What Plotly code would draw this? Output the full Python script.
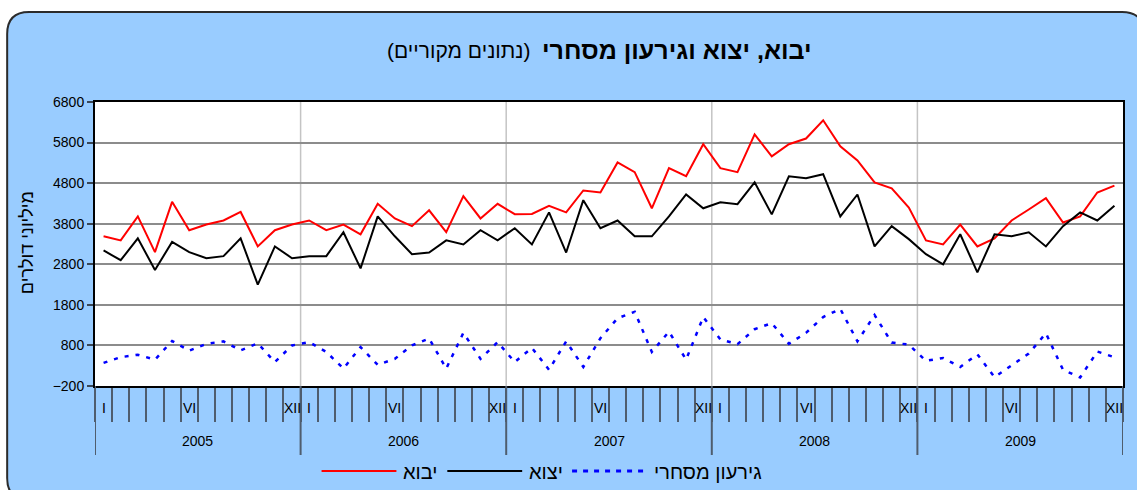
import plotly.graph_objects as go

# ---------------- data ----------------
years = [2005, 2006, 2007, 2008, 2009]
month_labels = ["I", "", "", "", "", "VI", "", "", "", "", "", "XII"]

imports = [
    3490, 3390, 3980, 3100, 4340, 3640, 3780, 3880, 4090, 3240, 3640, 3780,
    3880, 3640, 3780, 3540, 4290, 3930, 3740, 4130, 3590, 4480, 3930, 4290,
    4035, 4040, 4240, 4080, 4620, 4570, 5310, 5070, 4180, 5170, 4970, 5760,
    5170, 5070, 6000, 5460, 5760, 5900, 6350, 5710, 5360, 4820, 4670, 4200,
    3390, 3290, 3780, 3240, 3440, 3880, 4150, 4430, 3830, 3980, 4570, 4740,
]
exports = [
    3140, 2900, 3440, 2660, 3350, 3100, 2950, 3000, 3440, 2300, 3240, 2950,
    3000, 3000, 3590, 2700, 3980, 3490, 3050, 3090, 3390, 3290, 3640, 3390,
    3690, 3290, 4080, 3090, 4380, 3690, 3880, 3490, 3490, 3980, 4520, 4180,
    4330, 4280, 4820, 4030, 4970, 4920, 5020, 3980, 4520, 3240, 3740, 3420,
    3050, 2800, 3540, 2600, 3540, 3490, 3590, 3240, 3740, 4080, 3880, 4240,
]
deficit = [
    370, 510, 570, 450, 910, 670, 840, 900, 680, 850, 390, 800,
    880, 640, 230, 760, 320, 470, 800, 970, 230, 1110, 470, 880,
    390, 740, 200, 900, 270, 980, 1470, 1630, 640, 1140, 450, 1500,
    950, 830, 1200, 1350, 840, 1110, 1500, 1700, 900, 1550, 870, 820,
    420, 490, 270, 580, 20, 320, 600, 1100, 200, 10, 650, 510,
]

series_names = ["יבוא", "יצוא", "גירעון מסחרי"]
title_main = "יבוא, יצוא וגירעון מסחרי"
title_sub = "(נתונים מקוריים)"
y_title = "מיליוני דולרים"

categories = [f"{y}-{m:02d}" for y in years for m in range(1, 13)]

# ---------------- layout geometry (pixels) ----------------
W, H = 1137, 490
L, R, T, B = 95, 12, 102, 104
PW, PH = W - L - R, H - T - B
FONT = "Liberation Sans, Arial, sans-serif"


def px(x):
    return (x - L) / PW


def py(y):
    return (T + PH - y) / PH


fig = go.Figure()
fig.add_trace(go.Scatter(x=categories, y=imports, mode="lines", name=series_names[0],
                         line=dict(color="#FF0000", width=2)))
fig.add_trace(go.Scatter(x=categories, y=exports, mode="lines", name=series_names[1],
                         line=dict(color="#000000", width=2)))
fig.add_trace(go.Scatter(x=categories, y=deficit, mode="lines", name=series_names[2],
                         line=dict(color="#0000FF", width=2.5, dash="4px,7px")))

shapes = []
# rounded light-blue panel
rx, ry, rr, rb, rad = 7, 12, 1146, 500, 22
path = (f"M {px(rx)},{py(ry + rad)} Q {px(rx)},{py(ry)} {px(rx + rad)},{py(ry)} "
        f"L {px(rr - rad)},{py(ry)} Q {px(rr)},{py(ry)} {px(rr)},{py(ry + rad)} "
        f"L {px(rr)},{py(rb - rad)} Q {px(rr)},{py(rb)} {px(rr - rad)},{py(rb)} "
        f"L {px(rx + rad)},{py(rb)} Q {px(rx)},{py(rb)} {px(rx)},{py(rb - rad)} Z")
shapes.append(dict(type="path", path=path, xref="paper", yref="paper",
                   fillcolor="#99CCFF", line=dict(color="#2b2b2b", width=2), layer="below"))
shapes.append(dict(type="rect", xref="paper", yref="paper", x0=0, x1=1, y0=0, y1=1,
                   fillcolor="white", line=dict(width=0), layer="below"))

n_years = len(years)
for k in range(n_years + 1):
    xb = 12 * k - 0.5
    if 0 < k < n_years:
        shapes.append(dict(type="line", xref="x", yref="paper", x0=xb, x1=xb, y0=0, y1=1,
                           line=dict(color="#c4c4c4", width=1.5), layer="below"))
    shapes.append(dict(type="line", xref="x", yref="paper", x0=xb, x1=xb, y0=0, y1=py(455),
                       line=dict(color="#4f5d6e", width=2)))

# legend (drawn manually)
legend_items = [
    (series_names[0], "#FF0000", "solid", 2, 322),
    (series_names[1], "#000000", "solid", 2, 448),
    (series_names[2], "#0000FF", "5px,6px", 3, 573),
]
annotations = []
ly = 471
for name, col, dash, wdt, x0 in legend_items:
    shapes.append(dict(type="line", xref="paper", yref="paper", x0=px(x0), x1=px(x0 + 75),
                       y0=py(ly), y1=py(ly), line=dict(color=col, width=wdt, dash=dash)))
    annotations.append(dict(text=name, xref="paper", yref="paper", x=px(x0 + 80), y=py(ly + 1),
                            xanchor="left", yanchor="middle", showarrow=False,
                            font=dict(family=FONT, size=20, color="black")))

# month labels and year labels
for yi, yr in enumerate(years):
    for mi, lab in enumerate(month_labels):
        if lab:
            annotations.append(dict(text=lab, xref="x", yref="paper", x=categories[12 * yi + mi],
                                    y=py(408), xanchor="center", yanchor="middle", showarrow=False,
                                    font=dict(family=FONT, size=14, color="black")))
    annotations.append(dict(text=str(yr), xref="x", yref="paper", x=12 * yi + 5.5, y=py(441),
                            xanchor="center", yanchor="middle", showarrow=False,
                            font=dict(family=FONT, size=14, color="black")))

# titles
annotations.append(dict(text="<b>" + title_main + "</b>", xref="paper", yref="paper",
                        x=px(541), y=py(50), xanchor="left", yanchor="middle", showarrow=False,
                        font=dict(family=FONT, size=25, color="black")))
annotations.append(dict(text=title_sub, xref="paper", yref="paper",
                        x=px(533), y=py(50), xanchor="right", yanchor="middle", showarrow=False,
                        font=dict(family=FONT, size=21, color="black")))
annotations.append(dict(text=y_title, xref="paper", yref="paper", x=px(27), y=py(243),
                        xanchor="center", yanchor="middle", textangle=-90, showarrow=False,
                        font=dict(family=FONT, size=18, color="black")))

fig.update_layout(
    width=W, height=H, autosize=False,
    margin=dict(l=L, r=R, t=T, b=B, pad=0),
    paper_bgcolor="white", plot_bgcolor="white",
    showlegend=False,
    shapes=shapes, annotations=annotations,
    font=dict(family=FONT, size=14, color="black"),
)
fig.update_xaxes(
    type="category", categoryorder="array", categoryarray=categories,
    range=[-0.5, len(categories) - 0.5],
    tickmode="array", tickvals=categories, ticktext=[""] * len(categories),
    tickson="boundaries", ticks="outside", ticklen=34, tickwidth=2, tickcolor="#4f5d6e",
    showticklabels=False, showgrid=False, zeroline=False,
    showline=True, linecolor="black", linewidth=2, mirror=True,
)
fig.update_yaxes(
    range=[-200, 6800], tick0=-200, dtick=1000, tickmode="linear",
    ticks="outside", ticklen=6, tickwidth=2, tickcolor="#3a4656",
    tickfont=dict(family=FONT, size=14, color="black"),
    showgrid=True, gridcolor="#8c8c8c", gridwidth=1.5, zeroline=False,
    showline=True, linecolor="black", linewidth=2, mirror=True,
)

fig.write_html("out.html", config={"displayModeBar": False},
               post_script="document.body.style.margin='0';")
